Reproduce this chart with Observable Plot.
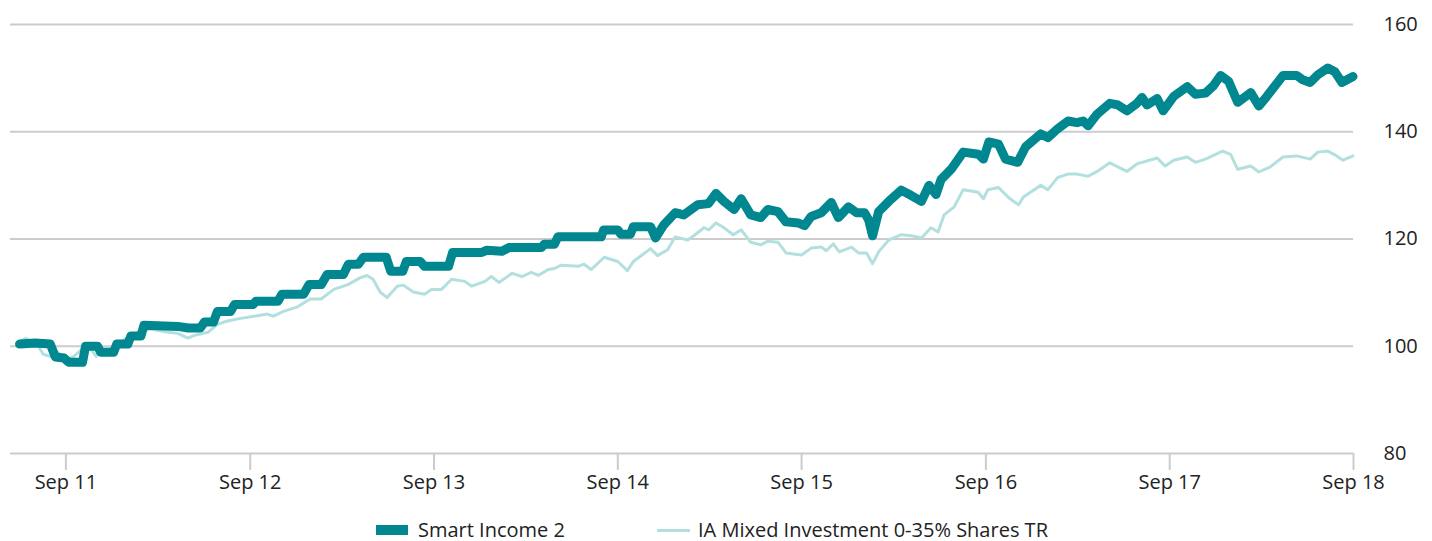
<!DOCTYPE html>
<html>
<head>
<meta charset="utf-8">
<script src="https://cdn.jsdelivr.net/npm/d3@7"></script>
<script src="https://cdn.jsdelivr.net/npm/@observablehq/plot@0.6"></script>
<style>
  html, body { margin: 0; padding: 0; background: #fff; }
  body { width: 1432px; height: 541px; overflow: hidden; font-family: "Open Sans", sans-serif; color: #222; }
  #legend { position: relative; height: 36px; margin-top: 13px; font-size: 20px; }
  .item { position: absolute; top: 0; height: 24px; line-height: 24px; display: flex; align-items: center; white-space: nowrap; }
  .sw1 { width: 32px; height: 10px; background: #00878f; margin-right: 10px; }
  .sw2 { width: 33px; height: 3px; background: #b3dfdf; margin-right: 8px; }
</style>
</head>
<body>
<div id="chart"></div>
<div id="legend"></div>
<script>
const seriesNames = ["Smart Income 2", "IA Mixed Investment 0-35% Shares TR"];

const smartDates = ["2011-06-01","2011-07-02","2011-08-01","2011-08-11","2011-08-28","2011-09-07","2011-10-04","2011-10-10","2011-11-03","2011-11-09","2011-12-05","2011-12-11","2012-01-02","2012-01-08","2012-01-28","2012-02-03","2012-04-10","2012-05-01","2012-05-25","2012-06-02","2012-06-20","2012-06-28","2012-07-24","2012-08-01","2012-09-07","2012-09-12","2012-10-26","2012-11-03","2012-12-16","2012-12-27","2013-01-20","2013-02-01","2013-03-05","2013-03-15","2013-04-04","2013-04-14","2013-05-29","2013-06-07","2013-07-01","2013-07-08","2013-08-05","2013-08-13","2013-09-30","2013-10-08","2013-12-05","2013-12-15","2014-01-14","2014-01-28","2014-04-02","2014-04-08","2014-04-28","2014-05-05","2014-07-30","2014-08-04","2014-09-01","2014-09-07","2014-09-26","2014-10-02","2014-11-05","2014-11-15","2014-12-01","2014-12-24","2015-01-10","2015-02-07","2015-02-28","2015-03-15","2015-03-31","2015-04-20","2015-05-04","2015-05-23","2015-06-12","2015-06-26","2015-07-16","2015-08-01","2015-08-25","2015-09-07","2015-09-20","2015-10-10","2015-10-30","2015-11-13","2015-12-03","2015-12-19","2016-01-04","2016-01-12","2016-01-20","2016-02-01","2016-02-21","2016-03-17","2016-04-06","2016-04-26","2016-05-11","2016-05-25","2016-06-04","2016-06-24","2016-07-18","2016-08-17","2016-08-27","2016-09-07","2016-09-26","2016-10-10","2016-11-03","2016-11-19","2016-12-19","2017-01-02","2017-01-22","2017-02-11","2017-03-01","2017-03-13","2017-03-23","2017-04-10","2017-05-05","2017-05-21","2017-06-08","2017-06-28","2017-07-08","2017-07-18","2017-08-07","2017-08-19","2017-09-09","2017-10-06","2017-10-22","2017-11-11","2017-11-27","2017-12-11","2017-12-27","2018-01-14","2018-02-09","2018-02-25","2018-03-13","2018-04-14","2018-05-11","2018-05-23","2018-06-07","2018-06-22","2018-07-12","2018-07-26","2018-08-09","2018-08-31"];
const smartValues = [100.4,100.6,100.4,98.0,97.8,97.0,97.0,100.0,100.0,98.9,98.9,100.4,100.4,101.9,101.9,103.9,103.7,103.4,103.4,104.5,104.5,106.5,106.5,107.8,107.8,108.4,108.4,109.7,109.7,111.5,111.5,113.4,113.4,115.3,115.3,116.6,116.6,114.0,114.0,115.8,115.8,114.9,114.9,117.5,117.5,117.9,117.7,118.4,118.4,119.0,119.0,120.4,120.4,121.7,121.7,120.9,120.9,122.3,122.3,120.2,122.6,124.9,124.5,126.4,126.6,128.5,127.0,125.5,127.5,124.5,124.0,125.5,125.1,123.2,123.0,122.5,124.2,124.9,126.8,124.0,126.0,124.9,124.9,123.6,120.6,125.1,127.0,129.1,128.1,127.0,130.0,128.3,131.1,133.0,136.2,135.8,134.9,138.1,137.7,134.9,134.3,137.2,139.6,138.9,140.6,142.0,141.7,142.0,141.1,143.3,145.3,145.0,143.9,145.3,146.4,145.0,146.2,143.9,146.6,148.4,147.0,147.2,148.6,150.5,149.4,145.5,147.3,144.8,146.6,150.5,150.5,149.7,149.2,150.6,151.9,151.2,149.2,150.3];

const iaDates = ["2011-06-01","2011-06-13","2011-06-28","2011-07-06","2011-07-18","2011-08-01","2011-08-15","2011-09-05","2011-09-17","2011-10-07","2011-10-21","2011-10-31","2011-11-09","2011-11-23","2011-12-05","2012-01-02","2012-01-28","2012-02-17","2012-03-22","2012-04-10","2012-04-30","2012-05-12","2012-06-09","2012-06-28","2012-07-18","2012-08-13","2012-09-09","2012-10-05","2012-10-17","2012-11-06","2012-12-03","2012-12-29","2013-01-20","2013-02-14","2013-03-14","2013-04-08","2013-04-21","2013-05-03","2013-05-17","2013-05-31","2013-06-20","2013-07-02","2013-07-22","2013-08-13","2013-08-27","2013-09-16","2013-10-06","2013-11-01","2013-11-15","2013-12-11","2013-12-24","2014-01-08","2014-02-03","2014-02-23","2014-03-13","2014-03-27","2014-04-16","2014-04-28","2014-05-11","2014-06-14","2014-06-26","2014-07-10","2014-08-05","2014-09-01","2014-09-20","2014-10-02","2014-11-05","2014-11-19","2014-12-09","2014-12-24","2015-01-18","2015-01-30","2015-02-19","2015-03-01","2015-03-15","2015-03-31","2015-04-18","2015-05-04","2015-05-23","2015-06-12","2015-06-26","2015-07-16","2015-08-01","2015-09-01","2015-09-20","2015-10-10","2015-10-20","2015-11-03","2015-11-15","2015-12-09","2015-12-23","2016-01-08","2016-01-20","2016-02-01","2016-02-21","2016-03-17","2016-04-06","2016-04-26","2016-05-15","2016-05-29","2016-06-10","2016-06-30","2016-07-18","2016-08-17","2016-08-27","2016-09-05","2016-09-26","2016-10-20","2016-11-05","2016-11-15","2016-12-19","2017-01-02","2017-01-22","2017-02-11","2017-03-01","2017-03-23","2017-04-10","2017-05-05","2017-06-08","2017-06-28","2017-08-07","2017-08-23","2017-09-09","2017-10-06","2017-10-22","2017-11-11","2017-12-15","2017-12-31","2018-01-14","2018-02-09","2018-02-25","2018-03-19","2018-04-14","2018-05-11","2018-06-07","2018-06-22","2018-07-12","2018-07-26","2018-08-11","2018-08-31"];
const iaValues = [100.7,101.5,100.7,100.4,98.5,98.1,98.9,97.6,98.1,99.8,99.4,98.1,99.4,99.3,100.0,101.7,102.8,103.2,102.6,102.4,101.5,102.0,102.6,104.1,104.7,105.2,105.6,106.0,105.6,106.5,107.3,108.8,108.8,110.6,111.5,112.8,113.2,112.5,110.1,109.1,111.2,111.4,110.1,109.7,110.6,110.6,112.5,112.1,111.2,112.1,113.0,111.9,113.6,113.0,113.8,113.2,114.3,114.5,115.1,114.9,115.3,114.3,116.6,115.8,114.1,115.8,118.2,116.9,118.0,120.4,119.8,120.6,122.1,121.7,123.0,122.1,120.8,121.7,119.4,118.9,119.6,119.4,117.4,117.0,118.3,118.5,117.8,119.1,117.6,118.5,117.4,117.4,115.4,117.6,119.8,120.8,120.6,120.2,122.1,121.3,124.5,126.0,129.2,128.7,127.5,129.2,129.6,127.4,126.4,127.9,130.0,129.2,131.5,132.1,132.1,131.7,132.6,134.2,132.6,134.0,135.1,133.6,134.7,135.3,134.3,134.9,136.4,135.8,133.0,133.6,132.5,133.4,135.3,135.5,134.9,136.2,136.4,135.7,134.7,135.5];

const yTicks = [80, 100, 120, 140, 160];
const xTickDates = ["2011-09-01","2012-09-01","2013-09-01","2014-09-01","2015-09-01","2016-09-01","2017-09-01","2018-09-01"];
const xTickLabels = ["Sep 11","Sep 12","Sep 13","Sep 14","Sep 15","Sep 16","Sep 17","Sep 18"];

const colors = ["#00878f", "#b3dfdf"];

const smart = smartDates.map((d, i) => ({date: new Date(d), value: smartValues[i]}));
const ia = iaDates.map((d, i) => ({date: new Date(d), value: iaValues[i]}));
const xTicks = xTickDates.map(d => new Date(d));

const chart = Plot.plot({
  width: 1432,
  height: 505,
  marginLeft: 10,
  marginRight: 79,
  marginTop: 24,
  marginBottom: 52,
  style: {fontFamily: "Open Sans, sans-serif", fontSize: "20px", color: "#222", background: "#fff"},
  x: {type: "utc", domain: [new Date("2011-05-14"), new Date("2018-09-01")]},
  y: {domain: [80, 160]},
  marks: [
    Plot.ruleY(yTicks, {stroke: "#cccccc", strokeWidth: 2}),
    Plot.axisX({ticks: xTicks, tickFormat: (d, i) => xTickLabels[i], tickSize: 17, tickPadding: 4, stroke: "#cccccc", strokeWidth: 2, strokeOpacity: 1, fill: "#222", fontSize: 20, label: null}),
    Plot.axisY({anchor: "right", ticks: yTicks, tickSize: 0, tickPadding: 30, fill: "#222", fontSize: 20, label: null}),
    Plot.line(ia, {x: "date", y: "value", stroke: colors[1], strokeWidth: 3, strokeLinejoin: "round", strokeLinecap: "round"}),
    Plot.line(smart, {x: "date", y: "value", stroke: colors[0], strokeWidth: 9, strokeLinejoin: "round", strokeLinecap: "round"})
  ]
});
document.getElementById("chart").appendChild(chart);

const legend = document.getElementById("legend");
const lefts = [376, 657];
seriesNames.forEach((name, i) => {
  const item = document.createElement("div");
  item.className = "item";
  item.style.left = lefts[i] + "px";
  const sw = document.createElement("span");
  sw.className = i === 0 ? "sw1" : "sw2";
  const label = document.createElement("span");
  label.textContent = name;
  item.appendChild(sw);
  item.appendChild(label);
  legend.appendChild(item);
});
</script>
</body>
</html>
